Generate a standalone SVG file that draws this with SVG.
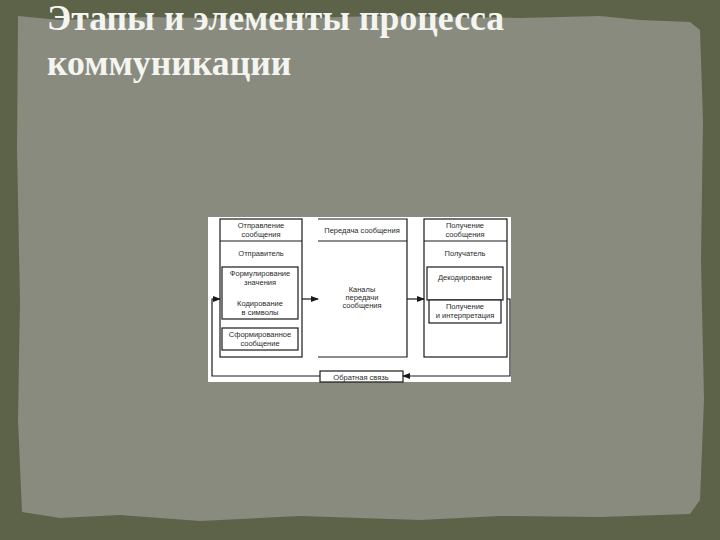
<svg xmlns="http://www.w3.org/2000/svg" width="720" height="540" viewBox="0 0 720 540">
<style>
.ln{fill:none;stroke:#1a1a1a;stroke-width:1.2}
.bx{fill:#ffffff;stroke:#1a1a1a;stroke-width:1.2}
.t{font-family:"Liberation Sans",Arial,sans-serif;font-size:7.5px;fill:#2a2a2a;text-anchor:middle}
.title{font-family:"Liberation Serif","Times New Roman",serif;font-weight:bold;font-size:35.7px;fill:#f4f4f0}
</style>
<defs>
<marker id="ah" markerWidth="8" markerHeight="6" refX="7" refY="3" orient="auto" markerUnits="userSpaceOnUse">
<path d="M0,0 L8,3 L0,6 Z" fill="#1a1a1a"/>
</marker>
</defs>
<g id="background">
<rect x="0" y="0" width="720" height="540" fill="#5c6349"/>
<path d="M18,16 L60,20 L150,17 L260,19 L380,16 L520,18 L600,16 L640,20 L690,22 L700,30 L703,120 L701,260 L704,400 L700,500 L690,514 L600,517 L500,516 L420,520 L300,516 L200,521 L120,515 L60,518 L22,512 L18,420 L20,300 L17,150 Z" fill="#888b7e"/>
</g>
<g id="title">
<text class="title" x="47" y="30">Этапы и элементы процесса</text>
<text class="title" x="47" y="75">коммуникации</text>
</g>
<g id="diagram-area">
<rect x="208" y="217" width="303" height="165" fill="#ffffff"/>
</g>
<g id="sender">
<rect class="bx" x="220" y="219" width="82" height="138"/>
<line class="ln" x1="220" y1="241" x2="302" y2="241"/>
<text class="t" x="261" y="228">Отправление</text>
<text class="t" x="261" y="237">сообщения</text>
<text class="t" x="261" y="256">Отправитель</text>
</g>
<g id="encoding">
<rect class="bx" x="222" y="267" width="76" height="52"/>
<text class="t" x="260" y="276">Формулирование</text>
<text class="t" x="260" y="285">значения</text>
<text class="t" x="260" y="306">Кодирование</text>
<text class="t" x="260" y="315">в символы</text>
</g>
<g id="message">
<rect class="bx" x="222" y="328" width="76" height="22"/>
<text class="t" x="260" y="337">Сформированное</text>
<text class="t" x="260" y="346">сообщение</text>
</g>
<g id="channel">
<path class="ln" d="M318,219 L407,219 L407,357 L318,357"/>
<line class="ln" x1="318" y1="241" x2="407" y2="241"/>
<text class="t" x="362" y="233">Передача сообщения</text>
<text class="t" x="362" y="292">Каналы</text>
<text class="t" x="362" y="300">передачи</text>
<text class="t" x="362" y="308">сообщения</text>
</g>
<g id="receiver">
<rect class="bx" x="424" y="219" width="83" height="138"/>
<line class="ln" x1="424" y1="241" x2="507" y2="241"/>
<text class="t" x="465" y="228">Получение</text>
<text class="t" x="465" y="237">сообщения</text>
<text class="t" x="465" y="256">Получатель</text>
</g>
<g id="decoding">
<rect class="bx" x="427" y="267" width="76" height="33"/>
<text class="t" x="465" y="280">Декодирование</text>
</g>
<g id="interpretation">
<rect class="bx" x="429" y="300" width="72" height="23"/>
<text class="t" x="465" y="309">Получение</text>
<text class="t" x="465" y="318">и интерпретация</text>
</g>
<g id="feedback">
<rect class="bx" x="320" y="371" width="83" height="11"/>
<text class="t" x="361" y="380">Обратная связь</text>
</g>
<g id="connectors">
<line class="ln" x1="302" y1="299" x2="318" y2="299" marker-end="url(#ah)"/>
<line class="ln" x1="407" y1="299" x2="424" y2="299" marker-end="url(#ah)"/>
<path class="ln" d="M507,299 L510,299 L510,376 L403,376" marker-end="url(#ah)"/>
<path class="ln" d="M320,376 L212,376 L212,299 L220,299" marker-end="url(#ah)"/>
</g>
</svg>
